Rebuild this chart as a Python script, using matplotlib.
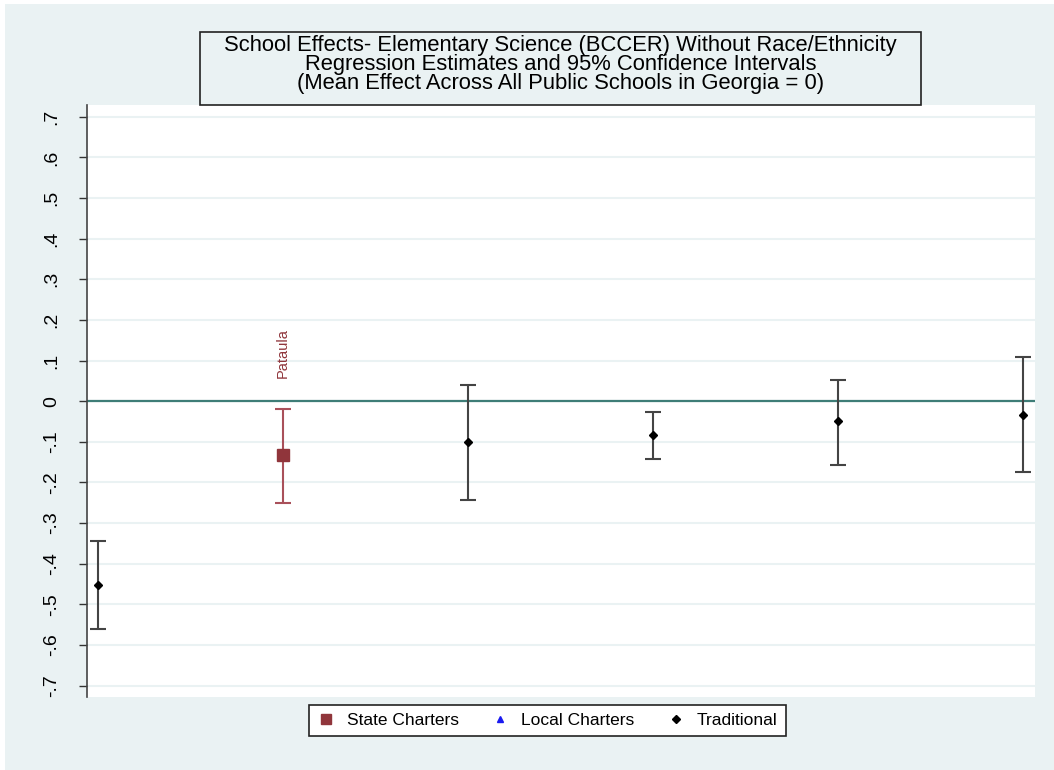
import matplotlib
matplotlib.use("Agg")
import matplotlib.pyplot as plt
from matplotlib.patches import Rectangle
from matplotlib.lines import Line2D

plt.rcParams['font.family'] = ['Liberation Sans', 'DejaVu Sans']

# school effects, ordered by estimate
school_rank = [1, 2, 3, 4, 5, 6]
school_type = ["Traditional", "State Charters", "Traditional", "Traditional", "Traditional", "Traditional"]
estimate = [-0.452, -0.133, -0.101, -0.084, -0.049, -0.033]
ci_low = [-0.560, -0.250, -0.243, -0.143, -0.156, -0.175]
ci_high = [-0.345, -0.018, 0.041, -0.026, 0.053, 0.109]
school_label = ["", "Pataula", "", "", "", ""]

yticks = [-0.7, -0.6, -0.5, -0.4, -0.3, -0.2, -0.1, 0, 0.1, 0.2, 0.3, 0.4, 0.5, 0.6, 0.7]
ytick_labels = ["-.7", "-.6", "-.5", "-.4", "-.3", "-.2", "-.1", "0", ".1", ".2", ".3", ".4", ".5", ".6", ".7"]

title_lines = ["School Effects- Elementary Science (BCCER) Without Race/Ethnicity",
               "Regression Estimates and 95% Confidence Intervals",
               "(Mean Effect Across All Public Schools in Georgia = 0)"]

bg = "#EAF2F3"
maroon = "#90353B"
styles = {"State Charters": dict(marker="s", color=maroon, ecolor="#A9505A", ms=8),
          "Local Charters": dict(marker="^", color="#1A1AF0", ecolor="#1A1AF0", ms=5),
          "Traditional": dict(marker="D", color="black", ecolor="#444444", ms=4.5)}

W, H = 1054, 770
fig = plt.figure(figsize=(W / 100, H / 100), dpi=100, facecolor="white")
fig.patches.append(Rectangle((5 / W, 0), 1 - 5 / W, 1 - 4 / H, transform=fig.transFigure,
                             facecolor=bg, edgecolor="none", zorder=-10))

ax = fig.add_axes([87 / W, 1 - 697 / H, (1035 - 87) / W, (697 - 105) / H])
ax.set_facecolor("white")
ax.set_xlim(0.939, 6.067)
ax.set_ylim(-0.728, 0.729)

for y in yticks:
    ax.axhline(y, color=bg, lw=1.5, zorder=1)
ax.axhline(0, color="#3E7D77", lw=1.6, zorder=2)

for i in range(len(school_rank)):
    st = styles[school_type[i]]
    ax.errorbar(school_rank[i], estimate[i],
                yerr=[[estimate[i] - ci_low[i]], [ci_high[i] - estimate[i]]],
                fmt="none", ecolor=st["ecolor"], elinewidth=1.5, capsize=6, capthick=1.5, zorder=3)
    ax.plot(school_rank[i], estimate[i], linestyle="none", marker=st["marker"],
            color=st["color"], ms=st["ms"], zorder=4)
    if school_label[i]:
        ax.text(school_rank[i], 0.058, school_label[i], rotation=90, ha="center", va="bottom",
                color=maroon, fontsize=10.5)

ax.set_yticks(yticks)
ax.set_yticklabels(ytick_labels, rotation=90, va="center", fontsize=14)
ax.tick_params(axis="y", length=5.5, width=1, color="#333333", pad=14)
ax.set_xticks([])
for side in ["top", "right", "bottom"]:
    ax.spines[side].set_visible(False)
ax.spines["left"].set_color("#444444")
ax.spines["left"].set_linewidth(1.2)

# title box
fig.patches.append(Rectangle((200 / W, 1 - 105 / H), 721 / W, 73 / H, transform=fig.transFigure,
                             facecolor=bg, edgecolor="#222222", lw=1.2, zorder=5))
for k, line in enumerate(title_lines):
    fig.text(560.5 / W, 1 - (45 + 19.5 * k) / H, line, ha="center", va="center",
             fontsize=15.8, linespacing=1.0, zorder=6)

handles = [Line2D([], [], linestyle="none", marker=styles[n]["marker"], color=styles[n]["color"],
                  ms=styles[n]["ms"] * 0.9) for n in ["State Charters", "Local Charters", "Traditional"]]
leg = fig.legend(handles, ["State Charters", "Local Charters", "Traditional"], ncol=3,
                 loc="center", bbox_to_anchor=(547.5 / W, 1 - 720.5 / H), fontsize=12.5,
                 frameon=True, fancybox=False, edgecolor="#222222", handlelength=1.0,
                 handletextpad=0.7, columnspacing=1.9, borderpad=0.45, borderaxespad=0)
leg.get_frame().set_linewidth(1.2)
leg.get_frame().set_facecolor("white")
leg.get_frame().set_alpha(1)

fig.savefig("out.png", dpi=100, facecolor="white")
